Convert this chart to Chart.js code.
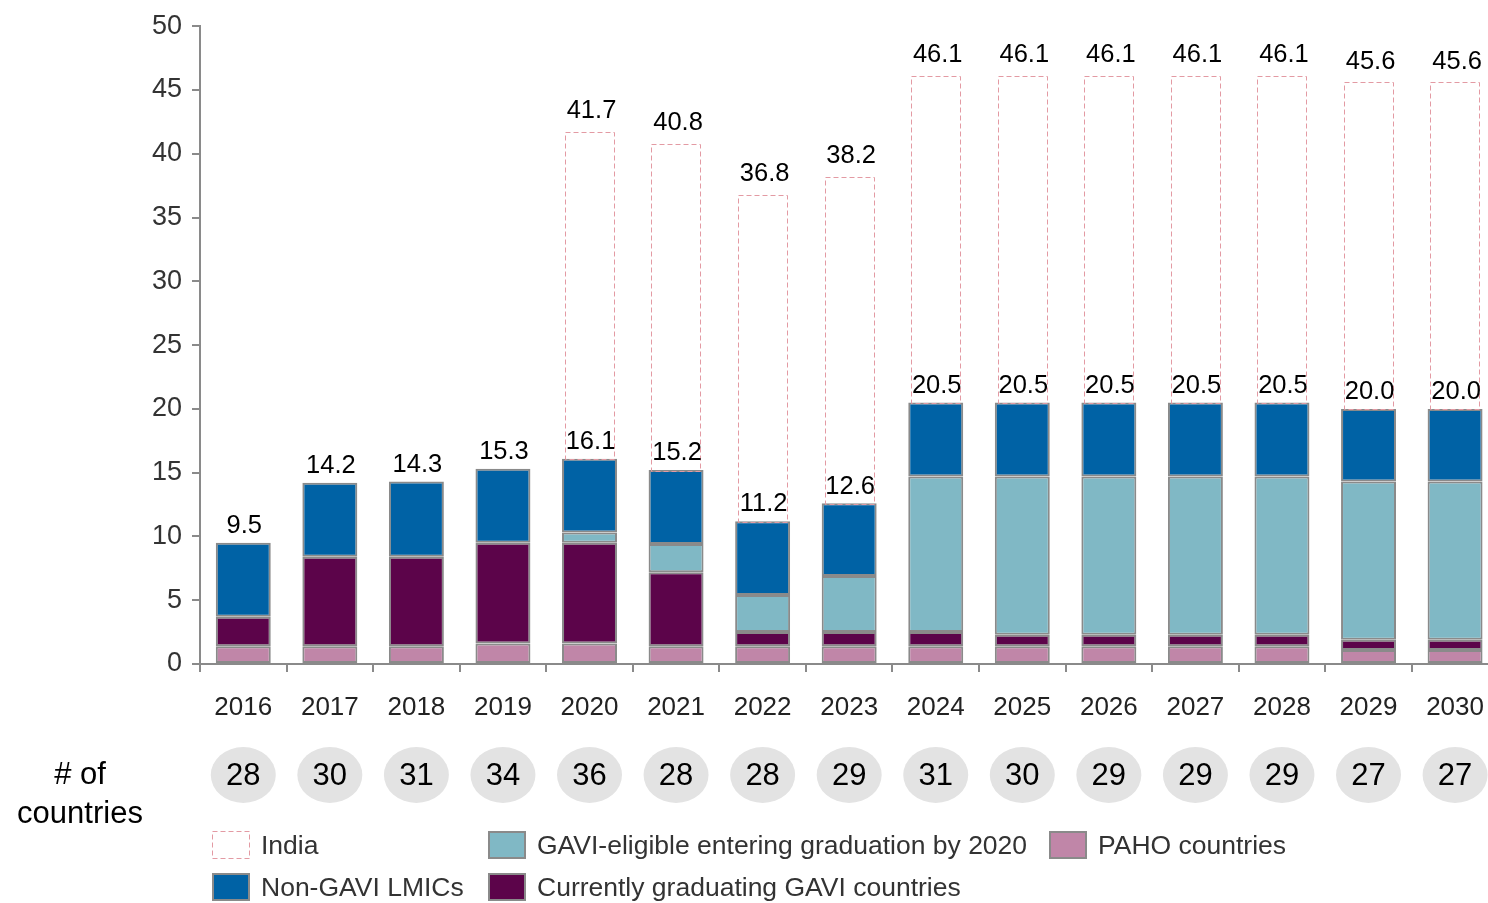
<!DOCTYPE html>
<html>
<head>
<meta charset="utf-8">
<script src="https://cdn.jsdelivr.net/npm/chart.js@4"></script>
<style>
  html, body { margin: 0; padding: 0; background: #fff; overflow: hidden; }
  #wrap { position: relative; width: 1504px; height: 903px; }
</style>
</head>
<body>
<div id="wrap"><canvas id="chart"></canvas></div>
<script>
// ---- data ----
const years = ['2016', '2017', '2018', '2019', '2020', '2021', '2022', '2023',
               '2024', '2025', '2026', '2027', '2028', '2029', '2030'];
const paho       = [1.4, 1.4, 1.4, 1.6, 1.6, 1.4, 1.4, 1.4, 1.4, 1.4, 1.4, 1.4, 1.4, 1.1, 1.1];
const graduating = [2.3, 7.0, 7.0, 7.9, 7.9, 5.8, 1.1, 1.1, 1.1, 0.9, 0.9, 0.9, 0.9, 0.8, 0.8];
const eligible   = [null, null, null, null, 0.8, 2.2, 2.9, 4.4, 12.2, 12.4, 12.4, 12.4, 12.4, 12.4, 12.4];
const nonGavi    = [5.8, 5.8, 5.9, 5.8, 5.8, 5.8, 5.8, 5.7, 5.8, 5.8, 5.8, 5.8, 5.8, 5.7, 5.7];
const india      = [null, null, null, null, 25.6, 25.6, 25.6, 25.6, 25.6, 25.6, 25.6, 25.6, 25.6, 25.6, 25.6];
const countries  = [28, 30, 31, 34, 36, 28, 28, 29, 31, 30, 29, 29, 29, 27, 27];

const FONT = '"Liberation Sans", Arial, Helvetica, sans-serif';
const EDGE = '#8a8a8a';
const INDIA_DASH = '#e39aa3';

const legendItems = [
  { label: 'India', color: null, x: 212, row: 0 },
  { label: 'GAVI-eligible entering graduation by 2020', color: '#80b8c5', x: 488, row: 0 },
  { label: 'PAHO countries', color: '#c086a8', x: 1049, row: 0 },
  { label: 'Non-GAVI LMICs', color: '#0062a5', x: 212, row: 1 },
  { label: 'Currently graduating GAVI countries', color: '#5c044a', x: 488, row: 1 }
];

function stackTotal(i) {
  return (paho[i] || 0) + (graduating[i] || 0) + (eligible[i] || 0) + (nonGavi[i] || 0);
}

/* labels, India outline, country circles, legend */
const extras = {
  id: 'extras',
  afterDatasetsDraw(chart) {
    const ctx = chart.ctx;
    const y = chart.scales.y;
    const indiaMeta = chart.getDatasetMeta(4);

    ctx.save();
    // dashed India boxes
    ctx.strokeStyle = INDIA_DASH;
    ctx.lineWidth = 1;
    ctx.setLineDash([5, 3]);
    indiaMeta.data.forEach((el, i) => {
      if (india[i] == null) return;
      const w = el.width;
      ctx.strokeRect(Math.round(el.x - w / 2) + 0.5, Math.round(el.y) + 0.5, Math.round(w), Math.round(el.base - el.y));
    });
    ctx.setLineDash([]);

    // value labels
    ctx.fillStyle = '#000';
    ctx.font = '25.5px ' + FONT;
    ctx.textAlign = 'center';
    ctx.textBaseline = 'bottom';
    const base = chart.getDatasetMeta(0).data;
    base.forEach((el, i) => {
      const t = stackTotal(i);
      ctx.fillText(t.toFixed(1), el.x + 1, y.getPixelForValue(t) - 4);
      if (india[i] != null) {
        const all = t + india[i];
        ctx.fillText(all.toFixed(1), el.x + 2, y.getPixelForValue(all) - 8);
      }
    });

    // country count circles
    ctx.textBaseline = 'middle';
    base.forEach((el, i) => {
      ctx.fillStyle = '#e3e3e3';
      ctx.beginPath();
      ctx.ellipse(el.x, 775, 32.5, 28, 0, 0, Math.PI * 2);
      ctx.fill();
      ctx.fillStyle = '#000';
      ctx.font = '31px ' + FONT;
      ctx.fillText(String(countries[i]), el.x, 776);
    });
    ctx.font = '31px ' + FONT;
    ctx.fillText('# of', 80, 775);
    ctx.fillText('countries', 80, 814);

    // legend
    ctx.textAlign = 'left';
    ctx.font = '26.5px ' + FONT;
    legendItems.forEach(it => {
      const top = it.row === 0 ? 831 : 873;
      if (it.color) {
        ctx.fillStyle = EDGE;
        ctx.fillRect(it.x, top, 38, 28);
        ctx.fillStyle = it.color;
        ctx.fillRect(it.x + 2, top + 2, 34, 24);
      } else {
        ctx.strokeStyle = INDIA_DASH;
        ctx.lineWidth = 1;
        ctx.setLineDash([5, 3]);
        ctx.strokeRect(it.x + 0.5, top + 0.5, 37, 27);
        ctx.setLineDash([]);
      }
      ctx.fillStyle = '#333';
      ctx.fillText(it.label, it.x + 49, top + 16);
    });
    ctx.restore();
  }
};

const barStyle = { borderColor: EDGE, borderWidth: 2, borderSkipped: false,
                   barPercentage: 0.635, categoryPercentage: 1 };

new Chart(document.getElementById('chart'), {
  type: 'bar',
  data: {
    labels: years,
    datasets: [
      { label: 'PAHO countries', data: paho, backgroundColor: '#c086a8', ...barStyle },
      { label: 'Currently graduating GAVI countries', data: graduating, backgroundColor: '#5c044a', ...barStyle },
      { label: 'GAVI-eligible entering graduation by 2020', data: eligible, backgroundColor: '#80b8c5', ...barStyle },
      { label: 'Non-GAVI LMICs', data: nonGavi, backgroundColor: '#0062a5', ...barStyle },
      { label: 'India', data: india, backgroundColor: 'rgba(0,0,0,0)', borderWidth: 0,
        barPercentage: 0.57, categoryPercentage: 1 }
    ]
  },
  options: {
    responsive: true,
    maintainAspectRatio: false,
    animation: false,
    layout: { padding: { top: 24, left: 0, right: 0, bottom: 0 } },
    plugins: { legend: { display: false }, tooltip: { enabled: false } },
    scales: {
      x: {
        stacked: true,
        offset: true,
        afterFit(s) { s.height = 239; },
        border: { color: EDGE, width: 2 },
        grid: { offset: true, drawOnChartArea: false, tickLength: 8, color: EDGE, lineWidth: 2 },
        ticks: { color: '#222', padding: 20, font: { family: FONT, size: 26 } }
      },
      y: {
        stacked: true,
        min: 0,
        max: 50,
        afterFit(s) { s.width = 200; },
        border: { color: EDGE, width: 2 },
        grid: { drawOnChartArea: false, tickLength: 8, color: EDGE, lineWidth: 2 },
        ticks: { stepSize: 5, color: '#333', padding: 10, font: { family: FONT, size: 27 } }
      }
    }
  },
  plugins: [extras]
});
</script>
</body>
</html>
